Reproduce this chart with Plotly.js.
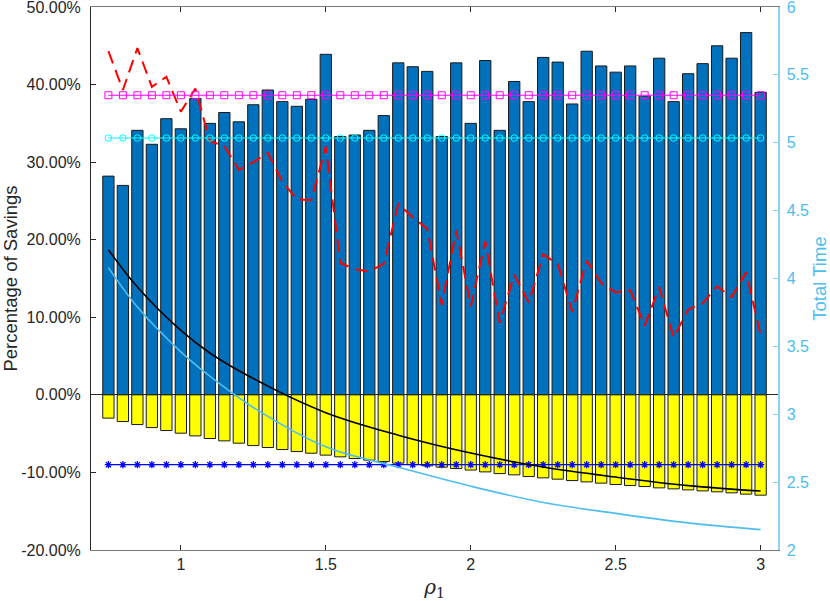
<!DOCTYPE html>
<html>
<head>
<meta charset="utf-8">
<script src="https://cdn.plot.ly/plotly-3.0.1.min.js"></script>
<style>
  html, body { margin: 0; padding: 0; background: #fff; }
  #chart { width: 830px; height: 601px; }
</style>
</head>
<body>
<div id="chart"></div>
<script>
// rho_1 values, one bar per value
const rho = [0.75, 0.80, 0.85, 0.90, 0.95, 1.00, 1.05, 1.10, 1.15, 1.20, 1.25, 1.30,
  1.35, 1.40, 1.45, 1.50, 1.55, 1.60, 1.65, 1.70, 1.75, 1.80, 1.85, 1.90, 1.95, 2.00,
  2.05, 2.10, 2.15, 2.20, 2.25, 2.30, 2.35, 2.40, 2.45, 2.50, 2.55, 2.60, 2.65, 2.70,
  2.75, 2.80, 2.85, 2.90, 2.95, 3.00];

// savings in percent (left axis)
const savingsPos = [28.2, 27.0, 34.1, 32.3, 35.6, 34.3, 38.2, 35.0, 36.4, 35.2, 37.4, 39.3,
  37.8, 37.2, 38.1, 43.9, 33.3, 33.5, 34.1, 36.0, 42.8, 42.3, 41.7, 33.3, 42.8, 35.0,
  43.1, 34.1, 40.4, 37.8, 43.5, 42.9, 37.5, 44.3, 42.4, 41.6, 42.4, 38.5, 43.4, 37.8,
  41.4, 42.7, 45.0, 43.4, 46.7, 39.0];
const savingsNeg = [-3.0, -3.44, -3.83, -4.22, -4.6, -4.94, -5.29, -5.63, -5.93, -6.23, -6.54, -6.79,
  -7.05, -7.31, -7.52, -7.77, -7.99, -8.21, -8.42, -8.6, -8.8, -8.99, -9.15, -9.32, -9.5, -9.69,
  -9.93, -10.15, -10.31, -10.53, -10.7, -10.87, -11.05, -11.22, -11.38, -11.56, -11.69, -11.82, -11.99, -12.12,
  -12.25, -12.38, -12.5, -12.63, -12.8, -12.93];
const savingsRed = [44.3, 39.3, 44.7, 39.7, 41.0, 36.5, 39.5, 32.7, 32.1, 29.0, 30.0, 31.2,
  27.5, 25.2, 25.1, 32.0, 17.0, 16.2, 15.9, 16.9, 24.6, 22.9, 21.4, 11.6, 21.2, 11.4,
  19.8, 9.3, 15.5, 11.9, 18.1, 16.9, 10.7, 17.3, 14.4, 13.2, 13.5, 8.9, 13.9, 7.4,
  11.0, 11.8, 14.0, 12.6, 15.8, 7.7];
const savingsLevel = -9.0;

// smooth curves
const curveRho = [0.75, 0.85, 1.0, 1.1, 1.25, 1.5, 1.75, 2.0, 2.25, 2.5, 2.75, 3.0];
const savingsBlack = [18.7, 13.9, 8.3, 5.4, 2.1, -2.3, -5.2, -7.5, -9.3, -10.6, -11.7, -12.4];
const timeCurve = [4.08, 3.79, 3.46, 3.28, 3.05, 2.76, 2.61, 2.47, 2.35, 2.27, 2.2, 2.15];

// total time levels (right axis)
const timeSquare = 5.35;
const timeCircle = 5.035;

const leftTicks = [-20, -10, 0, 10, 20, 30, 40, 50];
const leftTickText = ['-20.00%', '-10.00%', '0.00%', '10.00%', '20.00%', '30.00%', '40.00%', '50.00%'];
const rightTicks = [2, 2.5, 3, 3.5, 4, 4.5, 5, 5.5, 6];
const rightTickText = ['2', '2.5', '3', '3.5', '4', '4.5', '5', '5.5', '6'];
const xTicks = [1, 1.5, 2, 2.5, 3];

const skyBlue = '#4DBEEE';
const axisDark = '#262626';
const font = 'Liberation Sans, Arial, sans-serif';

const traces = [
  {
    type: 'bar', x: rho, y: savingsPos, width: 0.039,
    marker: { color: '#0072BD', line: { color: '#1a1a1a', width: 1 } },
  },
  {
    type: 'bar', x: rho, y: savingsNeg, width: 0.039,
    marker: { color: '#FFFF00', line: { color: '#1a1a1a', width: 1 } },
  },
  {
    type: 'scatter', mode: 'lines', x: rho, y: savingsRed,
    line: { color: '#FF0000', width: 2, dash: '13px,7px' },
  },
  {
    type: 'scatter', mode: 'lines+markers', x: rho, y: rho.map(() => savingsLevel),
    line: { color: '#0000FF', width: 1.2 },
    marker: { symbol: 'asterisk-open', size: 6, line: { color: '#0000FF', width: 1.3 } },
  },
  {
    type: 'scatter', mode: 'lines', x: curveRho, y: savingsBlack,
    line: { color: '#000000', width: 1.6, shape: 'spline' },
  },
  {
    type: 'scatter', mode: 'lines', x: curveRho, y: timeCurve, yaxis: 'y2',
    line: { color: skyBlue, width: 1.6, shape: 'spline' },
  },
  {
    type: 'scatter', mode: 'lines+markers', x: rho, y: rho.map(() => timeSquare), yaxis: 'y2',
    line: { color: '#FF00FF', width: 1 },
    marker: { symbol: 'square-open', size: 7, color: '#FF00FF', line: { color: '#FF00FF', width: 1 } },
  },
  {
    type: 'scatter', mode: 'lines+markers', x: rho, y: rho.map(() => timeCircle), yaxis: 'y2',
    line: { color: '#00FFFF', width: 1 },
    marker: { symbol: 'circle-open', size: 6.5, color: '#00FFFF', line: { color: '#00FFFF', width: 1 } },
  },
];

const layout = {
  width: 830,
  height: 601,
  margin: { l: 91, r: 52, t: 7, b: 51 },
  paper_bgcolor: '#fff',
  plot_bgcolor: '#fff',
  showlegend: false,
  barmode: 'relative',
  font: { family: font, size: 16, color: axisDark },
  xaxis: {
    range: [0.69, 3.06],
    tickvals: xTicks,
    ticks: 'inside', ticklen: 5, tickcolor: axisDark,
    showline: true, linecolor: '#7a7a7a', linewidth: 1, mirror: 'ticks',
    showgrid: false, zeroline: false,
    tickfont: { family: font, size: 16, color: axisDark },
    title: {
      text: '<i>ρ</i><sub>1</sub>',
      font: { family: 'DejaVu Serif, Liberation Serif, serif', size: 20, color: axisDark },
      standoff: 7,
    },
  },
  yaxis: {
    range: [-20, 50],
    tickvals: leftTicks, ticktext: leftTickText,
    ticks: 'inside', ticklen: 5, tickcolor: axisDark,
    ticklabeloverflow: 'allow',
    showline: true, linecolor: axisDark, linewidth: 1,
    showgrid: false,
    zeroline: true, zerolinecolor: axisDark, zerolinewidth: 1,
    ticklabelstandoff: 6,
    tickfont: { family: font, size: 16, color: axisDark },
    title: { text: 'Percentage of Savings', font: { family: font, size: 18.5, color: axisDark }, standoff: 4 },
  },
  yaxis2: {
    overlaying: 'y', side: 'right',
    range: [2, 6],
    tickvals: rightTicks, ticktext: rightTickText,
    ticks: 'inside', ticklen: 5, tickcolor: '#8fd0ee',
    ticklabeloverflow: 'allow',
    showline: true, linecolor: '#8fd0ee', linewidth: 1.5,
    showgrid: false, zeroline: false,
    ticklabelstandoff: 4,
    tickfont: { family: font, size: 16, color: skyBlue },
    title: { text: 'Total Time', font: { family: font, size: 18.5, color: skyBlue }, standoff: 5 },
  },
};

Plotly.newPlot('chart', traces, layout, { staticPlot: true, displayModeBar: false });
</script>
</body>
</html>
